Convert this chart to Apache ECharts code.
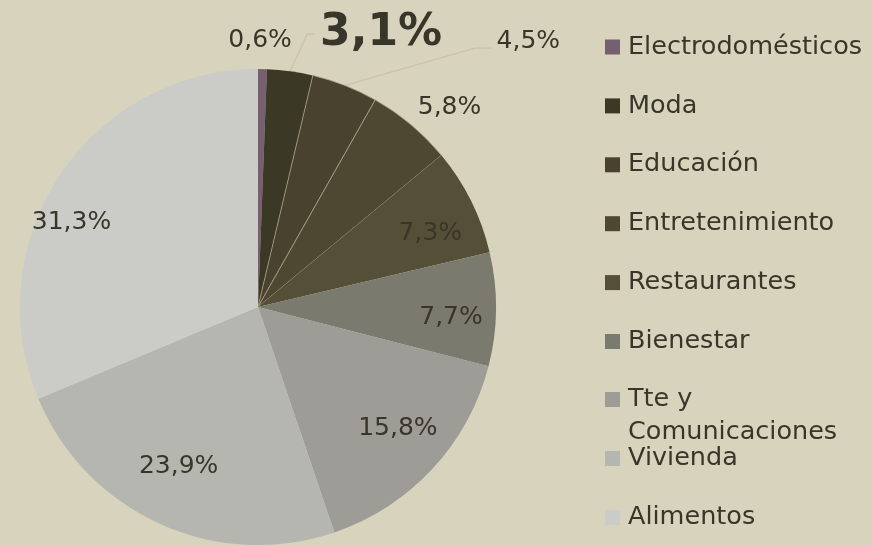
<!DOCTYPE html>
<html>
<head>
<meta charset="utf-8">
<script src="https://cdn.jsdelivr.net/npm/echarts@6/dist/echarts.min.js"></script>
<style>
html,body{margin:0;padding:0;background:#d8d3bd;}
#chart{width:871px;height:545px;}
</style>
</head>
<body>
<div id="chart"></div>
<script>
const categories = ['Electrodomésticos','Moda','Educación','Entretenimiento','Restaurantes','Bienestar','Tte y\nComunicaciones','Vivienda','Alimentos'];
const values = [0.6, 3.1, 4.5, 5.8, 7.3, 7.7, 15.8, 23.9, 31.3];
const colors = ['#76606f','#3c3826','#48422f','#4e4833','#554f38','#7b7a6e','#9d9c97','#b6b6b0','#cbcbc7'];

const FONT = 'DejaVu Sans';
const TEXT = '#38362a';
const CENTER = [258, 307];
const LABEL_SIZE = 25;
const fmtVal = v => v.toFixed(1).replace('.', ',') + '%';

// per-slice label nudges (style only): horizontal via padding, vertical via blank line
const insideLabelIdx = [4, 5, 6, 7, 8];
const insidePadX = {4:[0,0,0,8], 5:[0,0,0,10], 6:[0,0,0,4], 7:[0,4,0,0], 8:[0,60,0,0]};
const insideDy = {4: 10, 5: 9, 6: -6, 7: -12, 8: 20};
const farLabelIdx = [0, 3];
const farPadX = {0:[0,6,0,0], 3:[0,0,0,40]};
const farDy = {0: 0, 3: 5};
const leaderCfg = {
  1: {len: 37.5, len2: 20, turn: 115, size: 44, weight: 'bold', dy: 0},
  2: {len: 40, len2: 132, turn: 164, size: LABEL_SIZE, weight: 'normal', dy: -7}
};
const borderIdx = [2, 3];

function shifted(text, dy) {
  if (!dy) return text;
  return dy > 0 ? '\n' + text : text + '\n';
}
function lh(dy) { return dy ? Math.abs(dy) * 2 : undefined; }

const mainData = categories.map((n, i) => {
  const d = {
    name: n, value: values[i],
    itemStyle: {color: colors[i], borderColor: borderIdx.includes(i) ? '#aaa286' : 'rgba(0,0,0,0)', borderWidth: borderIdx.includes(i) ? 0.8 : 0}
  };
  if (leaderCfg[i]) {
    const c = leaderCfg[i];
    const lab = {show: true, position: 'outside', fontSize: c.size, fontWeight: c.weight, distanceToLabelLine: 5};
    if (c.dy) lab.lineHeight = lh(c.dy);
    d.label = lab;
    d.labelLine = {show: true, length: c.len, length2: c.len2, minTurnAngle: c.turn, maxSurfaceAngle: 180, lineStyle: {color: '#c9c3a5', width: 1.3}};
  }
  return d;
});

const innerData = categories.map((n, i) => ({
  name: n, value: values[i],
  label: insideLabelIdx.includes(i) ? {show: true, padding: insidePadX[i], lineHeight: lh(insideDy[i])} : {show: false}
}));
const farData = categories.map((n, i) => ({
  name: n, value: values[i],
  label: farLabelIdx.includes(i) ? {show: true, padding: farPadX[i], lineHeight: lh(farDy[i])} : {show: false}
}));

const legendText = {fontFamily: FONT, fontSize: 25.5, color: TEXT, lineHeight: 30, padding: [0, 0, 0, 3]};
const legendBase = {
  orient: 'vertical', left: 605, padding: 0, itemWidth: 15, itemHeight: 15, itemGap: 28.9,
  icon: 'rect', textStyle: legendText, selectedMode: false, itemStyle: {borderWidth: 0}
};
const richBase = {fontFamily: FONT, fontSize: 25.5, color: TEXT};

const chart = echarts.init(document.getElementById('chart'), null, {renderer: 'canvas'});
chart.setOption({
  backgroundColor: '#d8d3bd',
  animation: false,
  legend: [
    Object.assign({}, legendBase, {top: 32, data: categories.slice(0, 6)}),
    Object.assign({}, legendBase, {
      top: 350, data: [categories[6]],
      formatter: name => {
        const parts = name.split('\n');
        return '{a|' + parts[0] + '}{s| }\n{b|' + parts[1] + '}';
      },
      textStyle: Object.assign({}, legendText, {
        rich: {
          a: Object.assign({lineHeight: 33, height: 33, verticalAlign: 'bottom'}, richBase),
          s: Object.assign({lineHeight: 66}, richBase),
          b: Object.assign({lineHeight: 33}, richBase)
        }
      })
    }),
    Object.assign({}, legendBase, {top: 443.5, data: categories.slice(7)})
  ],
  series: [
    {
      type: 'pie', center: CENTER, radius: 238, startAngle: 90, clockwise: true,
      avoidLabelOverlap: false, emphasis: {disabled: true},
      label: {show: false, color: TEXT, fontFamily: FONT, fontSize: LABEL_SIZE,
        formatter: p => shifted(fmtVal(p.value), leaderCfg[p.dataIndex] ? leaderCfg[p.dataIndex].dy : 0)},
      labelLine: {show: false},
      data: mainData
    },
    {
      type: 'pie', center: CENTER, radius: 370, startAngle: 90, silent: true,
      avoidLabelOverlap: false, emphasis: {disabled: true},
      itemStyle: {color: 'rgba(0,0,0,0)'},
      label: {position: 'inside', color: TEXT, fontFamily: FONT, fontSize: LABEL_SIZE,
        formatter: p => shifted(fmtVal(p.value), insideDy[p.dataIndex] || 0)},
      labelLine: {show: false},
      data: innerData
    },
    {
      type: 'pie', center: CENTER, radius: 528, startAngle: 90, silent: true,
      avoidLabelOverlap: false, emphasis: {disabled: true},
      itemStyle: {color: 'rgba(0,0,0,0)'},
      label: {position: 'inside', color: TEXT, fontFamily: FONT, fontSize: LABEL_SIZE,
        formatter: p => shifted(fmtVal(p.value), farDy[p.dataIndex] || 0)},
      labelLine: {show: false},
      data: farData
    }
  ]
});
</script>
</body>
</html>
